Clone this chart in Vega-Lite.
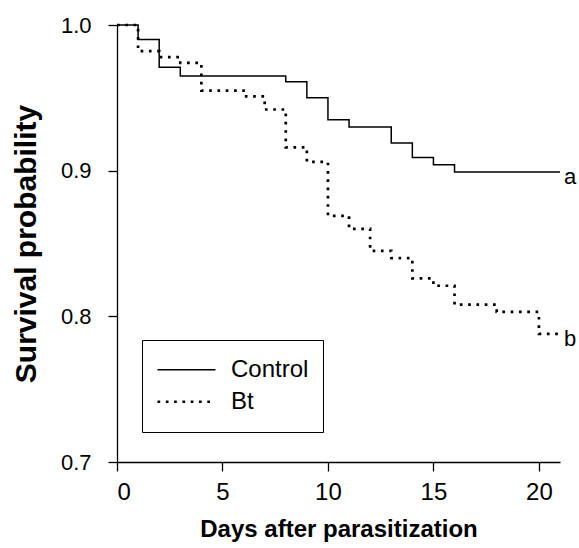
{
  "$schema": "https://vega.github.io/schema/vega-lite/v6.json",
  "autosize": {"type": "none"},
  "padding": {"left": 117, "top": 25, "right": 19, "bottom": 86},
  "width": 443,
  "height": 437,
  "background": "white",
  "config": {
    "view": {"stroke": null},
    "font": "Liberation Sans",
    "axis": {
      "grid": false,
      "domainColor": "black",
      "domainWidth": 1.3,
      "tickColor": "black",
      "tickWidth": 1.3,
      "tickSize": 9,
      "labelColor": "black",
      "labelFont": "Liberation Sans",
      "titleColor": "black",
      "titleFont": "Liberation Sans",
      "titleFontWeight": "bold"
    }
  },
  "datasets": {
    "curves": [
      {"group": "Control", "day": 0, "surv": 1.0},
      {"group": "Control", "day": 1, "surv": 0.990},
      {"group": "Control", "day": 2, "surv": 0.971},
      {"group": "Control", "day": 3, "surv": 0.965},
      {"group": "Control", "day": 8, "surv": 0.961},
      {"group": "Control", "day": 9, "surv": 0.950},
      {"group": "Control", "day": 10, "surv": 0.935},
      {"group": "Control", "day": 11, "surv": 0.930},
      {"group": "Control", "day": 13, "surv": 0.919},
      {"group": "Control", "day": 14, "surv": 0.909},
      {"group": "Control", "day": 15, "surv": 0.904},
      {"group": "Control", "day": 16, "surv": 0.899},
      {"group": "Control", "day": 21, "surv": 0.899},
      {"group": "Bt", "day": 0, "surv": 1.0},
      {"group": "Bt", "day": 1, "surv": 0.982},
      {"group": "Bt", "day": 2, "surv": 0.978},
      {"group": "Bt", "day": 3, "surv": 0.974},
      {"group": "Bt", "day": 4, "surv": 0.955},
      {"group": "Bt", "day": 6, "surv": 0.951},
      {"group": "Bt", "day": 7, "surv": 0.942},
      {"group": "Bt", "day": 8, "surv": 0.916},
      {"group": "Bt", "day": 9, "surv": 0.906},
      {"group": "Bt", "day": 10, "surv": 0.869},
      {"group": "Bt", "day": 11, "surv": 0.860},
      {"group": "Bt", "day": 12, "surv": 0.845},
      {"group": "Bt", "day": 13, "surv": 0.840},
      {"group": "Bt", "day": 14, "surv": 0.826},
      {"group": "Bt", "day": 15, "surv": 0.821},
      {"group": "Bt", "day": 16, "surv": 0.808},
      {"group": "Bt", "day": 18, "surv": 0.803},
      {"group": "Bt", "day": 20, "surv": 0.788},
      {"group": "Bt", "day": 21, "surv": 0.788}
    ],
    "letters": [
      {"day": 21, "surv": 0.899, "label": "a"},
      {"day": 21, "surv": 0.788, "label": "b"}
    ]
  },
  "layer": [
    {
      "data": {"name": "curves"},
      "mark": {"type": "line", "interpolate": "step-after", "color": "black", "strokeCap": "butt", "clip": false},
      "encoding": {
        "x": {
          "field": "day", "type": "quantitative",
          "scale": {"domain": [0, 21], "nice": false, "zero": false},
          "axis": {"values": [0, 5, 10, 15, 20], "title": "Days after parasitization", "titleFontSize": 24, "labelFontSize": 24, "labelPadding": 9, "titlePadding": 13}
        },
        "y": {
          "field": "surv", "type": "quantitative",
          "scale": {"domain": [0.7, 1.0], "nice": false, "zero": false},
          "axis": {"values": [0.7, 0.8, 0.9, 1.0], "format": ".1f", "title": "Survival probability", "titleFontSize": 30, "labelFontSize": 22, "labelPadding": 17, "titlePadding": 19}
        },
        "strokeDash": {
          "field": "group", "type": "nominal",
          "scale": {"domain": ["Control", "Bt"], "range": [[1, 0], [2.7, 5.6]]},
          "legend": {
            "title": null,
            "orient": "none",
            "legendX": 25,
            "legendY": 315,
            "direction": "vertical",
            "strokeColor": "black",
            "fillColor": "white",
            "padding": 14,
            "symbolType": "stroke",
            "symbolSize": 3364,
            "symbolStrokeColor": "black",
            "clipHeight": 31.5,
            "labelFont": "Liberation Sans",
            "labelFontSize": 24,
            "labelColor": "black",
            "labelOffset": 14,
            "rowPadding": 0
          }
        },
        "strokeWidth": {
          "field": "group", "type": "nominal",
          "scale": {"domain": ["Control", "Bt"], "range": [1.5, 2.7]},
          "legend": null
        }
      }
    },
    {
      "data": {"name": "letters"},
      "mark": {"type": "text", "align": "left", "baseline": "middle", "dx": 4, "dy": 5, "fontSize": 22, "font": "Liberation Sans", "color": "black"},
      "encoding": {
        "x": {"field": "day", "type": "quantitative"},
        "y": {"field": "surv", "type": "quantitative"},
        "text": {"field": "label"}
      }
    }
  ]
}
